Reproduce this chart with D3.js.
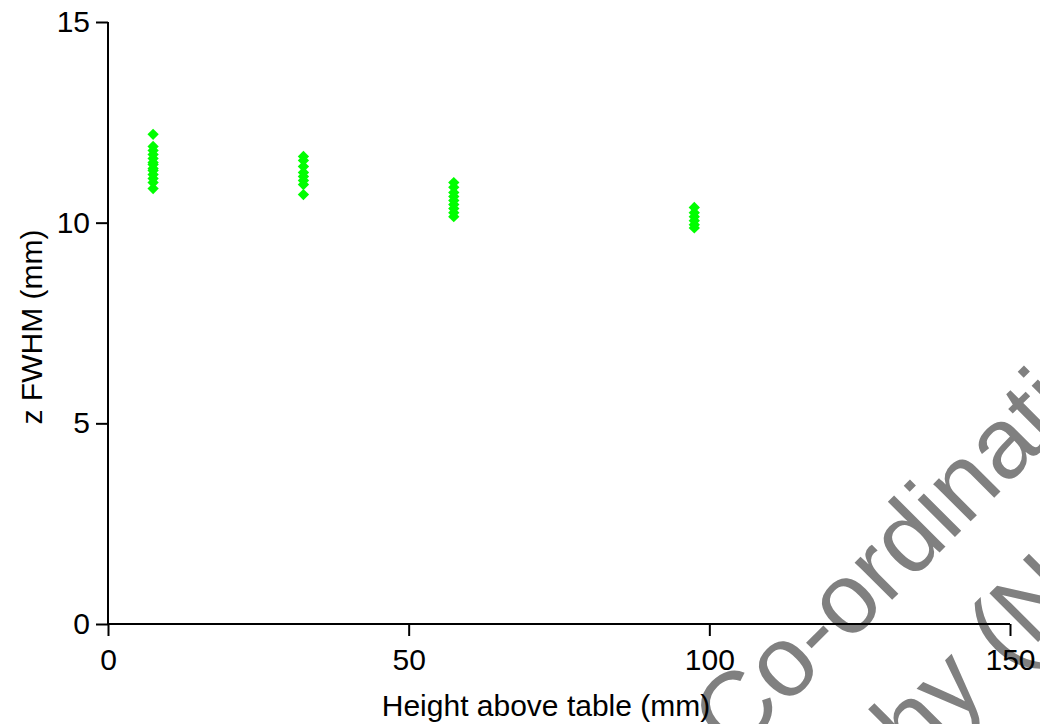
<!DOCTYPE html>
<html>
<head>
<meta charset="utf-8">
<script src="https://cdn.jsdelivr.net/npm/d3@7"></script>
<style>
  html, body { margin: 0; padding: 0; background: #fff; }
  svg { display: block; }
  text { font-family: "Liberation Sans", Arial, sans-serif; }
</style>
</head>
<body>
<svg id="chart" width="1040" height="724"></svg>
<script>
// ---- data ----
const heights = [7.5, 32.5, 57.5, 97.5];
const fwhmAt7 = [12.2, 11.9, 11.8, 11.7, 11.6, 11.5, 11.45, 11.35, 11.3, 11.2, 11.1, 11.0, 10.85];
const fwhmAt32 = [11.65, 11.55, 11.4, 11.25, 11.15, 11.05, 10.95, 10.7];
const fwhmAt57 = [11.0, 10.88, 10.75, 10.65, 10.55, 10.45, 10.35, 10.25, 10.15];
const fwhmAt97 = [10.38, 10.25, 10.15, 10.05, 9.95, 9.87];
const xTicks = [0, 50, 100, 150];
const yTicks = [0, 5, 10, 15];
const xTitle = "Height above table (mm)";
const yTitle = "z FWHM (mm)";
const watermark = ["Co-ordinating", "Tomography (NHS"];

const groups = [fwhmAt7, fwhmAt32, fwhmAt57, fwhmAt97];
const points = [];
groups.forEach((vals, i) => vals.forEach(v => points.push({ x: heights[i], y: v })));

// ---- layout ----
const svg = d3.select("#chart");
const x = d3.scaleLinear().domain([0, 150]).range([108, 1010]);
const y = d3.scaleLinear().domain([0, 15]).range([624, 22]);
const FS = 30;

// watermark (behind everything), rotated -45 degrees
const wm = svg.append("g").attr("fill", "#808080");
wm.append("text")
  .attr("transform", "translate(734,758) rotate(-45)")
  .attr("font-size", 100)
  .text(watermark[0]);
wm.append("text")
  .attr("transform", "translate(600,1080) rotate(-45)")
  .attr("font-size", 100)
  .text(watermark[1]);

// points
const sym = d3.symbol().type(d3.symbolSquare).size(64);
svg.append("g").selectAll("path")
  .data(points)
  .join("path")
  .attr("d", sym)
  .attr("transform", d => `translate(${x(d.x)},${y(d.y)}) rotate(45)`)
  .attr("fill", "#00ff00");

// axes
const xAxis = svg.append("g").attr("transform", "translate(0,624)")
  .call(d3.axisBottom(x).tickValues(xTicks).tickSize(12).tickPadding(13).tickFormat(d3.format("d")));
const yAxis = svg.append("g").attr("transform", "translate(108,0)")
  .call(d3.axisLeft(y).tickValues(yTicks).tickSize(12).tickPadding(6).tickFormat(d3.format("d")));
[xAxis, yAxis].forEach(g => {
  g.select(".domain").attr("stroke", "#000").attr("stroke-width", 2);
  g.selectAll(".tick line").attr("stroke", "#000").attr("stroke-width", 2);
  g.selectAll(".tick text").attr("font-size", FS).attr("fill", "#000")
    .attr("font-family", "'Liberation Sans', Arial, sans-serif");
});
xAxis.select(".domain").attr("d", `M${x(0)},0H${x(150)}`);
yAxis.select(".domain").attr("d", `M0,${y(15)}V${y(0)}`);

// titles
svg.append("text")
  .attr("x", 546).attr("y", 716)
  .attr("text-anchor", "middle").attr("font-size", FS).attr("fill", "#000")
  .text(xTitle);
svg.append("text")
  .attr("transform", `translate(42,${(y(0) + y(15)) / 2 + 4}) rotate(-90)`)
  .attr("text-anchor", "middle").attr("font-size", FS).attr("fill", "#000")
  .text(yTitle);
</script>
</body>
</html>
